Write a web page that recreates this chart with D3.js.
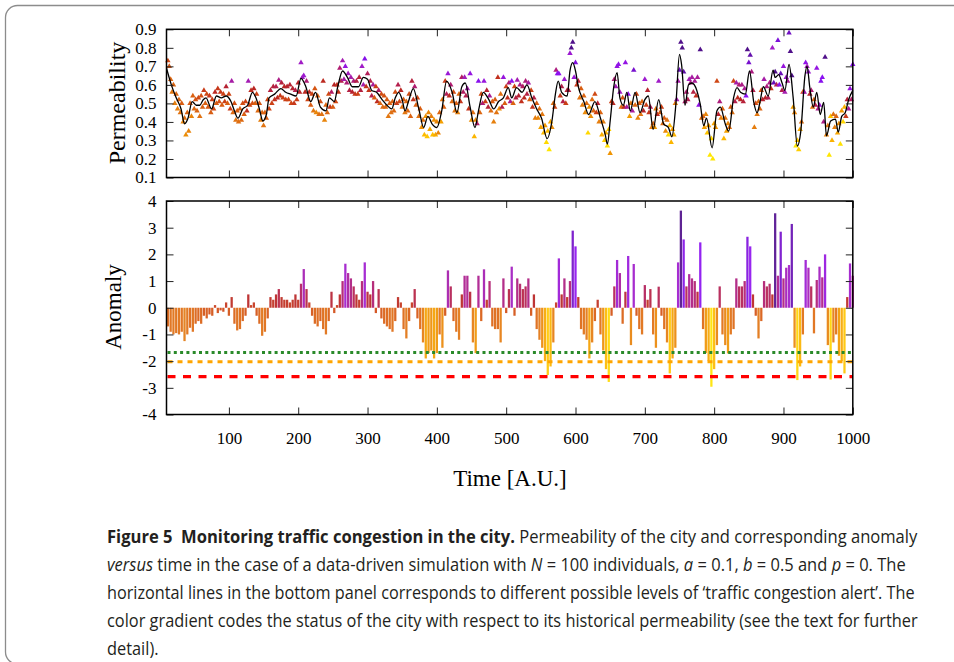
<!DOCTYPE html>
<html>
<head>
<meta charset="utf-8">
<script src="https://cdn.jsdelivr.net/npm/d3@7/dist/d3.min.js"></script>
<style>
  body { margin: 0; background: #fff; }
  svg { display: block; }
</style>
</head>
<body>
<script>
// ---- smoothed permeability (black line) ----
var lineT = [10,17,24,31,36,41,47,53,58,63,67,75,82,89,96,103,108,113,120,127,
  134,139,144,149,154,158,166,175,182,189,197,204,211,218,225,232,240,245,252,257,
  264,271,278,287,294,300,306,313,321,328,335,340,345,350,354,359,366,374,381,387,
  393,400,407,414,422,429,436,441,448,455,460,467,475,482,489,496,503,508,515,523,
  530,537,544,551,559,566,571,575,580,588,592,596,600,604,612,619,628,636,643,646,
  650,655,660,664,669,674,679,686,693,700,705,712,720,727,734,739,745,750,753,758,
  763,768,775,780,785,789,797,804,809,816,821,828,833,838,845,851,857,862,866,871,
  878,885,888,893,898,902,908,914,920,925,931,934,938,943,948,953,958,962,968,975,
  979,984,989,994,1000];
var lineP = [.69,.60,.53,.47,.39,.42,.51,.49,.49,.52,.53,.47,.54,.53,.54,.51,.46,.42,.47,.49,
  .56,.53,.47,.405,.44,.53,.55,.58,.56,.55,.54,.635,.59,.51,.56,.48,.46,.53,.51,.59,
  .675,.64,.59,.59,.64,.63,.57,.56,.52,.49,.47,.53,.56,.52,.46,.51,.58,.47,.37,.43,
  .39,.37,.46,.62,.56,.45,.59,.61,.48,.37,.46,.56,.52,.47,.51,.53,.585,.53,.585,.56,
  .60,.53,.47,.42,.31,.405,.55,.62,.56,.54,.675,.72,.675,.59,.51,.44,.51,.42,.33,.28,
  .405,.585,.666,.53,.49,.56,.46,.56,.45,.52,.54,.36,.52,.39,.37,.32,.505,.765,.71,.49,
  .60,.61,.57,.495,.38,.42,.26,.46,.48,.39,.35,.53,.585,.56,.55,.675,.51,.45,.505,.59,
  .54,.68,.64,.655,.61,.57,.71,.53,.27,.35,.65,.70,.585,.48,.56,.44,.505,.325,.405,.415,
  .345,.43,.45,.52,.57];

// ---- permeability samples (triangles): series A at t=12,16,...  series B at t=14,18,... ----
var permA = [
  .73,.63,.60,.55,.52,.50,.42,.45,.50,.54,.52,.53,.54,.57,.55,.54,.52,.56,.58,.56,.55,.59,.55,.62,.50,
  .46,.47,.50,.51,.62,.57,.58,.55,.50,.45,.45,.52,.57,.59,.59,.625,.61,.59,.59,.60,.58,.57,.61,.72,.65,
  .62,.56,.55,.58,.54,.51,.62,.49,.55,.56,.60,.60,.69,.73,.70,.66,.64,.62,.62,.64,.70,.74,.66,.62,.60,
  .59,.57,.55,.54,.52,.50,.51,.56,.60,.57,.52,.51,.55,.62,.59,.53,.47,.41,.43,.45,.43,.41,.40,.45,.52,
  .62,.66,.60,.56,.50,.55,.64,.64,.58,.66,.45,.41,.62,.55,.62,.57,.54,.51,.52,.64,.55,.64,.59,.61,.62,
  .59,.625,.60,.59,.62,.61,.57,.53,.50,.47,.44,.38,.35,.40,.50,.68,.66,.59,.63,.57,.77,.83,.72,.62,.58,
  .54,.50,.48,.52,.55,.50,.45,.40,.34,.36,.51,.63,.70,.56,.53,.72,.55,.50,.68,.55,.50,.51,.63,.57,.48,
  .39,.47,.62,.48,.42,.41,.38,.36,.50,.62,.83,.67,.56,.63,.64,.62,.64,.79,.43,.44,.38,.31,.39,.62,.51,
  .47,.42,.39,.48,.62,.61,.60,.60,.58,.79,.76,.57,.50,.51,.57,.63,.59,.61,.80,.67,.84,.66,.70,.64,.88,
  .65,.45,.30,.36,.56,.72,.67,.57,.52,.69,.49,.64,.75,.38,.43,.44,.43,.39,.46,.48,.52,.58,.71];
var permB = [
  .70,.56,.50,.47,.45,.40,.33,.35,.43,.47,.46,.43,.48,.50,.48,.45,.47,.50,.51,.49,.51,.50,.47,.45,.41,
  .40,.41,.44,.46,.49,.50,.50,.46,.41,.38,.42,.47,.50,.52,.53,.54,.53,.52,.52,.50,.50,.52,.56,.64,.56,
  .52,.49,.46,.45,.44,.44,.41,.45,.48,.48,.51,.56,.62,.63,.61,.57,.56,.55,.55,.57,.60,.59,.57,.54,.53,
  .51,.50,.48,.48,.43,.45,.46,.50,.51,.48,.45,.46,.43,.52,.49,.43,.37,.33,.32,.36,.33,.33,.34,.40,.48,
  .55,.54,.51,.46,.45,.51,.56,.54,.47,.41,.32,.39,.45,.50,.51,.48,.46,.40,.45,.47,.48,.50,.53,.51,.50,
  .53,.54,.51,.53,.55,.52,.48,.42,.42,.37,.34,.29,.25,.37,.48,.66,.54,.51,.50,.57,.80,.64,.60,.53,.49,
  .45,.34,.43,.46,.45,.40,.33,.30,.27,.23,.50,.59,.71,.48,.48,.48,.43,.46,.49,.42,.44,.46,.49,.45,.37,
  .37,.44,.45,.39,.35,.33,.29,.33,.52,.68,.80,.51,.52,.61,.56,.54,.49,.42,.37,.34,.22,.20,.37,.44,.42,
  .31,.35,.37,.45,.51,.53,.52,.51,.54,.72,.67,.37,.44,.47,.52,.53,.53,.58,.61,.60,.60,.57,.56,.62,.78,
  .48,.27,.25,.40,.56,.70,.55,.48,.49,.47,.62,.40,.33,.22,.30,.37,.34,.28,.40,.43,.47,.52];

// ---- anomaly (bottom panel), one bar every 4 time units from t=12 ----
var anomaly = [
  -0.7,-0.9,-1.0,-0.95,-1.0,-0.9,-1.25,-1.0,-0.75,-0.9,-0.6,-0.5,-0.6,-0.3,-0.4,-0.25,-0.3,0.1,-0.2,-0.1,-0.15,0.2,-0.3,0.4,-0.6,
  -0.85,-0.8,-0.5,-0.3,0.5,0.1,0.2,-0.3,-0.6,-1.05,-0.9,-0.4,0.4,0.3,0.5,0.7,0.4,0.3,0.3,0.2,0.3,0.5,0.3,0.9,1.45,
  0.7,0.2,-0.3,-0.6,-0.7,-0.5,-0.8,-1.0,-0.5,0.6,-0.2,0.1,0.5,1.0,1.65,1.3,1.1,0.8,0.5,0.3,1.0,1.7,0.6,0.5,1.0,
  -0.2,0.7,-0.4,-0.6,-0.7,-0.8,-0.9,-0.5,0.4,0.2,-0.8,-1.15,-0.5,0.2,0.7,-0.4,-0.8,-1.3,-1.9,-1.7,-1.6,-1.9,-1.7,-1.0,-1.5,
  -0.3,1.4,0.8,-0.5,-0.9,-1.2,0.5,1.2,1.2,0.6,-1.3,-1.7,1.2,-0.5,1.44,0.3,1.0,-0.7,-0.8,-0.8,-1.3,1.1,-0.2,0.7,1.54,
  -0.3,1.1,0.9,0.7,0.8,1.1,-0.3,0.5,-0.8,-1.2,-1.5,-2.0,-2.52,-2.2,-1.3,0.2,1.85,0.5,1.1,0.4,1.0,2.89,2.3,0.4,-0.8,
  -1.0,-1.2,-1.9,-1.3,-0.5,0.3,-1.0,-1.6,-2.3,-2.78,-0.3,0.8,1.79,1.3,-0.6,0.6,1.94,-1.4,1.64,-0.3,-0.8,-1.0,0.85,0.3,0.7,
  -1.0,-1.5,0.79,-0.3,-0.8,-1.3,-2.46,-1.9,-1.5,1.7,3.64,2.56,0.8,1.26,1.1,1.0,0.6,2.45,-0.8,-1.7,-2.0,-2.96,-2.3,-1.4,0.8,
  -1.0,-1.4,-1.71,-1.0,-0.8,1.1,0.8,0.8,1.0,2.66,2.3,0.5,-0.3,-1.15,-0.5,1.0,0.8,0.9,0.5,3.54,1.2,2.85,1.1,1.5,1.6,
  3.14,-1.5,-2.71,-2.2,-1.0,1.79,1.5,0.8,-0.96,1.04,1.54,1.14,2.0,-1.4,-2.69,-1.3,-1.0,-1.8,-2.0,-2.46,0.4,1.66,1.2];

// alert levels (green dotted, orange dashed, red dashed)
var alertLevels = [-1.68, -2.02, -2.58];

var xTicks = [100,200,300,400,500,600,700,800,900,1000];
var permTicks = [0.1,0.2,0.3,0.4,0.5,0.6,0.7,0.8,0.9];
var anomTicks = [-4,-3,-2,-1,0,1,2,3,4];

var W = 954, H = 662;
var serif = "'Liberation Serif', 'Times New Roman', serif";

var svg = d3.select("body").append("svg")
    .attr("width", W)
    .attr("height", H);

// outer figure box (bottom and right edges fall just outside the picture)
svg.append("rect")
    .attr("x", 5.5).attr("y", 5.5)
    .attr("width", 1000).attr("height", 658.5)
    .attr("rx", 12)
    .attr("fill", "none")
    .attr("stroke", "#8c8c8c")
    .attr("stroke-width", 1.3);

var x = d3.scaleLinear().domain([10, 1000]).range([166.5, 852.8]);
var yP = d3.scaleLinear().domain([0.1, 0.9]).range([177.5, 29.3]);
var yA = d3.scaleLinear().domain([-4, 4]).range([414.5, 201]);

var color = d3.scaleLinear()
    .domain([-3, -2.4, -1.8, -1.2, -0.5, 0, 0.5, 1.0, 1.6, 2.4, 3.6])
    .range(["#ffe600","#ffc000","#f29a00","#e27612","#d85c12","#cc4016","#b82424","#b01c70","#a01cc8","#8c10f4","#50108a"])
    .clamp(true);

var lineAt = d3.scaleLinear().domain(lineT).range(lineP);
function anomAt(t) {
    var i = Math.round((t - 12) / 4);
    i = Math.max(0, Math.min(anomaly.length - 1, i));
    return anomaly[i];
}

// ---------------- top panel ----------------
var pts = permA.map(function(p, i) { return {t: 12 + 4 * i, p: p}; })
    .concat(permB.map(function(p, i) { return {t: 14 + 4 * i, p: p}; }));

var tri = d3.symbol().type(d3.symbolTriangle).size(13);

svg.append("g").selectAll("path")
    .data(pts)
    .join("path")
    .attr("d", tri)
    .attr("transform", function(d) { return "translate(" + x(d.t) + "," + yP(d.p) + ")"; })
    .attr("fill", function(d) { return color(anomAt(d.t) + (d.p - lineAt(d.t)) * 8); });

var line = d3.line()
    .x(function(d, i) { return x(lineT[i]); })
    .y(function(d) { return yP(d); })
    .curve(d3.curveMonotoneX);

svg.append("path")
    .datum(lineP)
    .attr("d", line)
    .attr("fill", "none")
    .attr("stroke", "#000")
    .attr("stroke-width", 1.3);

// ---------------- bottom panel ----------------
var bw = x(14) - x(10) - 0.5;
svg.append("g").selectAll("rect")
    .data(anomaly)
    .join("rect")
    .attr("x", function(d, i) { return x(12 + 4 * i) - bw / 2; })
    .attr("y", function(d) { return yA(Math.max(0, d)); })
    .attr("width", bw)
    .attr("height", function(d) { return Math.abs(yA(d) - yA(0)); })
    .attr("fill", function(d) { return color(d); })
    .attr("fill-opacity", 0.92);

var alertStyle = [
    {c: "#2a8a2a", dash: "3,3.3", w: 3},
    {c: "#ffa500", dash: "5,5", w: 3},
    {c: "#ff0000", dash: "8,7.5", w: 3.3}
];
svg.append("g").selectAll("line")
    .data(alertLevels)
    .join("line")
    .attr("x1", x(10) + 1).attr("x2", x(1000))
    .attr("y1", function(d) { return yA(d); })
    .attr("y2", function(d) { return yA(d); })
    .attr("stroke", function(d, i) { return alertStyle[i].c; })
    .attr("stroke-width", function(d, i) { return alertStyle[i].w; })
    .attr("stroke-dasharray", function(d, i) { return alertStyle[i].dash; });

// ---------------- axes ----------------
function styleAxis(g) {
    g.select(".domain").remove();
    g.selectAll(".tick line").attr("stroke", "#222");
    g.attr("font-family", serif).attr("font-size", 17);
    g.selectAll("text").attr("fill", "#000");
}

function panelAxes(y, yTicks, fmt, showX) {
    var r = y.range();
    svg.append("g").attr("transform", "translate(" + x.range()[0] + ",0)")
        .call(d3.axisLeft(y).tickValues(yTicks).tickSizeInner(-7).tickSizeOuter(0).tickPadding(10).tickFormat(fmt))
        .call(styleAxis);
    svg.append("g").attr("transform", "translate(" + x.range()[1] + ",0)")
        .call(d3.axisRight(y).tickValues(yTicks).tickSizeInner(-7).tickSizeOuter(0).tickFormat(""))
        .call(styleAxis);
    svg.append("g").attr("transform", "translate(0," + r[1] + ")")
        .call(d3.axisTop(x).tickValues(xTicks).tickSizeInner(-7).tickSizeOuter(0).tickFormat(""))
        .call(styleAxis);
    svg.append("g").attr("transform", "translate(0," + r[0] + ")")
        .call(d3.axisBottom(x).tickValues(xTicks).tickSizeInner(-7).tickSizeOuter(0).tickPadding(17)
            .tickFormat(showX ? function(d) { return String(d); } : ""))
        .call(styleAxis);
    svg.append("rect")
        .attr("x", x.range()[0]).attr("y", r[1])
        .attr("width", x.range()[1] - x.range()[0])
        .attr("height", r[0] - r[1])
        .attr("fill", "none")
        .attr("stroke", "#000")
        .attr("stroke-width", 1.5);
}

panelAxes(yP, permTicks, d3.format(".1f"), false);
panelAxes(yA, anomTicks, function(d) { return String(d); }, true);

svg.append("text")
    .attr("transform", "translate(125,103) rotate(-90)")
    .attr("text-anchor", "middle")
    .attr("font-family", serif).attr("font-size", 24)
    .text("Permeability");
svg.append("text")
    .attr("transform", "translate(121,307) rotate(-90)")
    .attr("text-anchor", "middle")
    .attr("font-family", serif).attr("font-size", 23)
    .text("Anomaly");
svg.append("text")
    .attr("x", 510).attr("y", 486)
    .attr("text-anchor", "middle")
    .attr("font-family", serif).attr("font-size", 23)
    .text("Time [A.U.]");

// ---------------- caption ----------------
var cap = [
    {y: 543, len: 811, parts: [["Figure 5  Monitoring traffic congestion in the city.", "b"], [" Permeability of the city and corresponding anomaly", ""]]},
    {y: 571, len: 799, parts: [["versus", "i"], [" time in the case of a data-driven simulation with ", ""], ["N", "i"], [" = 100 individuals, ", ""], ["a", "i"], [" = 0.1, ", ""], ["b", "i"], [" = 0.5 and ", ""], ["p", "i"], [" = 0. The", ""]]},
    {y: 599, len: 808, parts: [["horizontal lines in the bottom panel corresponds to different possible levels of \u2018traffic congestion alert\u2019. The", ""]]},
    {y: 627, len: 811, parts: [["color gradient codes the status of the city with respect to its historical permeability (see the text for further", ""]]},
    {y: 655, len: 0, parts: [["detail).", ""]]}
];

var squeeze = 1;
cap.forEach(function(c, k) {
    var g = svg.append("g");
    var t = g.append("text")
        .attr("x", 0).attr("y", 0)
        .attr("font-family", "'Open Sans', 'Noto Sans', sans-serif")
        .attr("font-size", 17.5)
        .attr("fill", "#231f20")
        .style("white-space", "pre");
    c.parts.forEach(function(p) {
        var s = t.append("tspan").text(p[0]);
        if (p[1] === "b") s.attr("font-weight", "bold");
        if (p[1] === "i") s.attr("font-style", "italic");
    });
    if (c.len) squeeze = c.len / t.node().getComputedTextLength();
    g.attr("transform", "translate(107," + c.y + ") scale(" + squeeze + ",1)");
});
</script>
</body>
</html>
